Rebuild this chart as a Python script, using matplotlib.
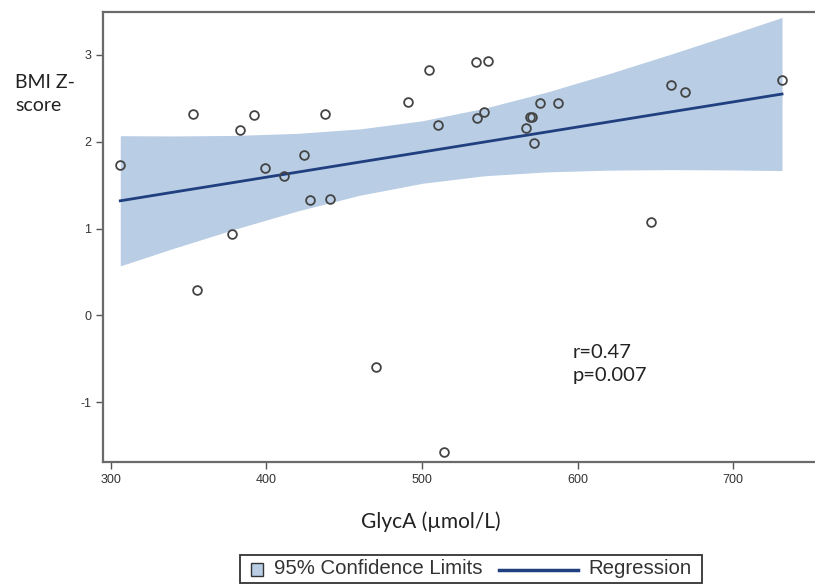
import numpy as np
import matplotlib.pyplot as plt
from matplotlib.patches import Rectangle
from matplotlib.lines import Line2D

plt.rcParams['axes.unicode_minus'] = False

# scatter data: GlycA vs BMI Z-score
glyca = [305.8, 352.7, 355.3, 377.8, 383.0, 392.0, 399.0, 411.0, 424.0, 428.0,
         437.6, 440.8, 470.4, 491.0, 504.5, 510.3, 514.1, 534.7, 535.4, 539.9,
         542.4, 566.8, 569.5, 570.5, 572.0, 575.9, 587.5, 647.3, 660.1, 669.1, 731.5]
bmi_z = [1.73, 2.32, 0.29, 0.94, 2.14, 2.31, 1.70, 1.61, 1.85, 1.33,
         2.32, 1.34, -0.59, 2.46, 2.83, 2.19, -1.57, 2.92, 2.27, 2.34,
         2.93, 2.16, 2.29, 2.29, 1.99, 2.45, 2.45, 1.08, 2.65, 2.57, 2.71]

# regression line and 95% confidence band
band_x = [306, 340, 380, 420, 460, 500, 540, 580, 620, 660, 700, 731.5]
band_fit = [1.32, 1.419, 1.534, 1.650, 1.766, 1.881, 1.997, 2.112, 2.228, 2.344, 2.459, 2.55]
band_upper = [2.07, 2.067, 2.073, 2.097, 2.148, 2.241, 2.386, 2.571, 2.783, 3.009, 3.243, 3.432]
band_lower = [0.57, 0.771, 0.995, 1.203, 1.384, 1.521, 1.608, 1.653, 1.673, 1.679, 1.675, 1.668]

x_ticks = [300, 400, 500, 600, 700]
y_ticks = [-1, 0, 1, 2, 3]

band_col = '#b9cde5'
line_col = '#1f3f7f'
W, H = 815, 587


def fx(px):
    return px / W


def fy(py):
    return 1 - py / H


fig = plt.figure(figsize=(8.15, 5.87), dpi=100)
ax = fig.add_axes([0.1264, 0.2129, 0.8736, 0.7667])

ax.fill_between(band_x, band_lower, band_upper, color=band_col, linewidth=0)
ax.plot(band_x, band_fit, color=line_col, linewidth=2)
ax.plot(glyca, bmi_z, linestyle='none', marker='o', markersize=6.3,
        markerfacecolor='none', markeredgecolor='#444444', markeredgewidth=1.3)

ax.set_xlim(294.9, 752.7)
ax.set_ylim(-1.689, 3.495)
ax.set_xticks(x_ticks)
ax.set_yticks(y_ticks)
ax.tick_params(direction='out', length=5, width=1, color='#555555',
               labelsize=9, labelcolor='#333333')
for lab in ax.get_xticklabels() + ax.get_yticklabels():
    lab.set_family('Liberation Sans')

ax.spines['right'].set_visible(False)
for s in ['left', 'bottom', 'top']:
    ax.spines[s].set_color('#6a6a6a')
    ax.spines[s].set_linewidth(1.6)

# annotation
fig.text(fx(573), fy(364), 'r=0.47\np=0.007', fontsize=14.5, family='Lato',
         color='#222222', linespacing=1.45, va='center', ha='left')

# axis titles
fig.text(fx(15), fy(94), 'BMI Z-\nscore', fontsize=14, family='Lato',
         color='#222222', ha='left', va='center', linespacing=1.4)
fig.text(fx(431), fy(522), 'GlycA (\u00b5mol/L)', fontsize=15, family='Lato',
         color='#222222', ha='center', va='center')

# legend box drawn by hand (square swatch, long line)
fig.patches.append(Rectangle((fx(240), fy(583)), (702 - 240) / W, 28 / H,
                             transform=fig.transFigure, facecolor='white',
                             edgecolor='#333333', linewidth=1.3))
fig.patches.append(Rectangle((fx(251), fy(576)), 12 / W, 13 / H,
                             transform=fig.transFigure, facecolor=band_col,
                             edgecolor='#333333', linewidth=1))
fig.text(fx(274), fy(569), '95% Confidence Limits', fontsize=14.7,
         family='Liberation Sans', color='#333333', ha='left', va='center')
fig.lines.append(Line2D([fx(499), fx(578)], [fy(570), fy(570)],
                        transform=fig.transFigure, color=line_col, linewidth=2.5))
fig.text(fx(588), fy(569), 'Regression', fontsize=14.7,
         family='Liberation Sans', color='#333333', ha='left', va='center')

fig.savefig('out.png', dpi=100)
